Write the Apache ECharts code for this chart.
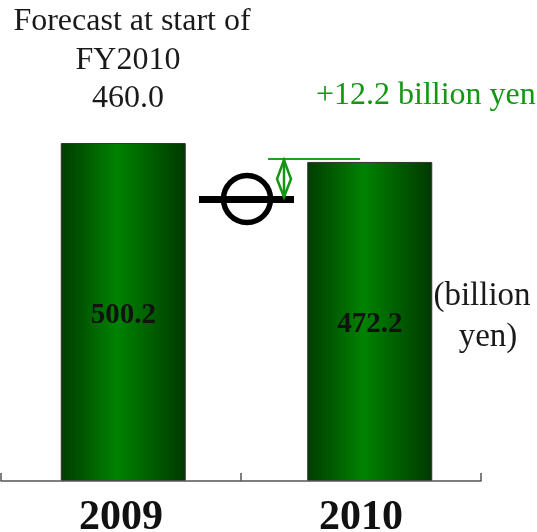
<!DOCTYPE html>
<html>
<head>
<meta charset="utf-8">
<script src="https://cdn.jsdelivr.net/npm/echarts@6/dist/echarts.min.js"></script>
<style>html,body{margin:0;padding:0;background:#fff}#c{width:537px;height:532px}</style>
</head>
<body>
<div id="c"></div>
<script>
const categories = ['2009', '2010'];
const values = [500.2, 472.2];
const forecastLines = ['Forecast at start of', 'FY2010', '460.0'];
const diffText = '+12.2 billion yen';
const unitLines = ['(billion', 'yen)'];

const SERIF = "'Liberation Serif','Times New Roman',serif";
const chart = echarts.init(document.getElementById('c'), null, {renderer: 'canvas'});

const barGradient = new echarts.graphic.LinearGradient(0, 0, 1, 0, [
  {offset: 0, color: '#003c00'},
  {offset: 0.45, color: '#008200'},
  {offset: 1, color: '#003800'}
]);

const GREEN = '#149614';

chart.setOption({
  animation: false,
  grid: [
    {left: 1, right: 56, top: 75.6, bottom: 51, containLabel: false, outerBoundsMode: 'none'},
    {left: 0, right: 44, top: 75.6, bottom: 51, containLabel: false, outerBoundsMode: 'none'}
  ],
  xAxis: [
    {
      type: 'category', gridIndex: 0, data: categories, z: 10,
      axisLine: {lineStyle: {color: '#555', width: 1.5}},
      axisTick: {show: true, inside: true, length: 8, interval: 0, lineStyle: {color: '#555', width: 1.5}},
      axisLabel: {fontFamily: SERIF, fontSize: 42, fontWeight: 'bold', color: '#111', margin: 16}
    },
    {type: 'category', gridIndex: 1, data: categories, show: false}
  ],
  yAxis: [
    {type: 'value', gridIndex: 0, min: 0, max: 600, show: false},
    {type: 'value', gridIndex: 1, min: 0, max: 600, show: false}
  ],
  series: [{
    type: 'bar', xAxisIndex: 1, yAxisIndex: 1, data: values, barWidth: 125,
    itemStyle: {color: barGradient, borderColor: '#333', borderWidth: 1},
    label: {
      show: true, position: 'inside', offset: [0, 3],
      formatter: p => p.value.toFixed(1),
      fontFamily: SERIF, fontSize: 29, fontWeight: 'bold', color: '#111'
    }
  }],
  graphic: [
    {type: 'text', x: 132, y: 22, style: {text: forecastLines[0], font: '32px ' + SERIF, fill: '#1a1a1a', align: 'center', verticalAlign: 'middle'}},
    {type: 'text', x: 128, y: 61, style: {text: forecastLines[1], font: '32px ' + SERIF, fill: '#1a1a1a', align: 'center', verticalAlign: 'middle'}},
    {type: 'text', x: 128, y: 99, style: {text: forecastLines[2], font: '32px ' + SERIF, fill: '#1a1a1a', align: 'center', verticalAlign: 'middle'}},
    {type: 'text', x: 316, y: 96, style: {text: diffText, font: '32px ' + SERIF, fill: GREEN, align: 'left', verticalAlign: 'middle'}},
    {type: 'text', x: 482, y: 296, style: {text: unitLines[0], font: '33px ' + SERIF, fill: '#1a1a1a', align: 'center', verticalAlign: 'middle'}},
    {type: 'text', x: 488, y: 337, style: {text: unitLines[1], font: '33px ' + SERIF, fill: '#1a1a1a', align: 'center', verticalAlign: 'middle'}},
    {type: 'rect', shape: {x: 199, y: 196, width: 95, height: 7}, style: {fill: '#000'}},
    {type: 'circle', shape: {cx: 247, cy: 199, r: 23.5}, style: {fill: 'none', stroke: '#000', lineWidth: 5.5}},
    {type: 'line', shape: {x1: 268, y1: 159, x2: 360, y2: 159}, style: {stroke: '#22a022', lineWidth: 2}},
    {type: 'line', shape: {x1: 284, y1: 160, x2: 284, y2: 197}, style: {stroke: GREEN, lineWidth: 2.5}},
    {type: 'polygon', shape: {points: [[284, 160], [277, 179], [284, 197], [291, 179]]}, style: {fill: 'none', stroke: GREEN, lineWidth: 2.5}}
  ]
});
</script>
</body>
</html>
